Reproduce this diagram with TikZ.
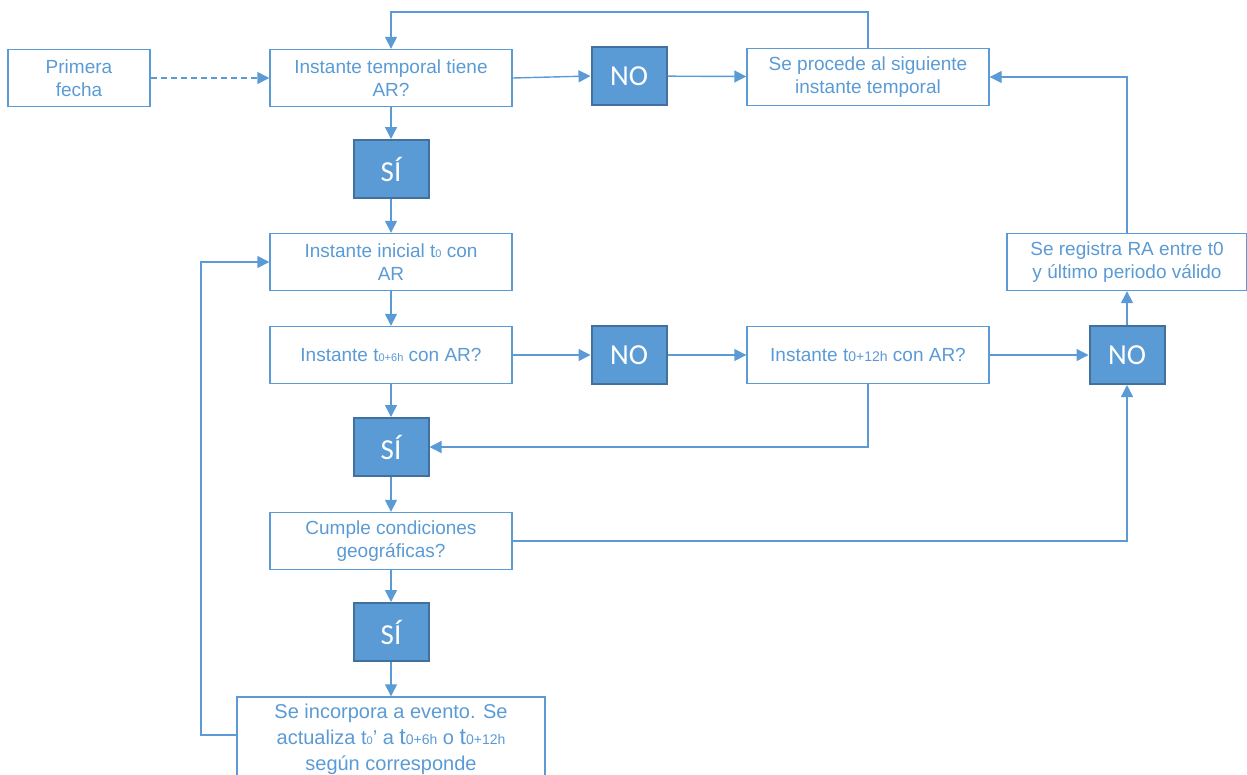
\documentclass[tikz,border=0pt]{standalone}
\usepackage{fontspec}
\setmainfont{Liberation Sans}
\newfontfamily\calib{Carlito}
\usetikzlibrary{arrows.meta}
\definecolor{lb}{HTML}{5B9BD5}
\definecolor{db}{HTML}{41719C}
\newcommand\sbs[1]{{\fontsize{11}{11}\selectfont #1}}
\newcommand\sbl[1]{{\fontsize{14}{14}\selectfont #1}}
\begin{document}
\begin{tikzpicture}[x=1pt,y=-1pt,
 box/.style={draw=lb, line width=1.4pt, fill=white, text=lb, font=\fontsize{19}{23}\selectfont, align=center, inner sep=0pt, minimum width=242pt, minimum height=57pt},
 dec/.style={draw=db, fill=lb, line width=2pt, text=white, font=\calib\fontsize{29}{29}\selectfont, inner sep=0pt, minimum width=75pt, minimum height=58pt},
 con/.style={draw=lb, line width=1.4pt, -{Triangle[length=12pt,width=12pt]}},
 lin/.style={draw=lb, line width=1.4pt}]
\useasboundingbox (0,0) rectangle (1247,774);
\clip (0,0) rectangle (1247,774);

\node[box, minimum width=142pt] (pf) at (79,78) {Primera\\fecha};
\node[box] (q1) at (391,78) {Instante temporal tiene\\AR?};
\node[dec] (no1) at (629,76) {NO};
\node[box] (proc) at (868,77) {Se procede al siguiente\\instante temporal};
\node[dec] (si1) at (391,169) {SÍ};
\node[box] (init) at (391,262) {Instante inicial t\sbs{0} con\\AR};
\node[box] (q6) at (391,355) {Instante t\sbs{0+6h} con AR?};
\node[dec] (no2) at (629,355) {NO};
\node[box] (q12) at (868,355) {Instante t\sbl{0+12h} con AR?};
\node[dec] (no3) at (1127,355) {NO};
\node[box, minimum width=240pt] (reg) at (1127,262) {Se registra RA entre t0\\y último periodo válido};
\node[dec] (si2) at (391,447) {SÍ};
\node[box] (geo) at (391,541) {Cumple condiciones\\geográficas?};
\node[dec] (si3) at (391,632) {SÍ};
\node[box, minimum width=308pt, minimum height=84pt, font=\fontsize{20}{26}\selectfont] (inc) at (391,739) {Se incorpora a evento. Se\\actualiza t\sbs{0}' a {\fontsize{23}{23}\selectfont t}\sbl{0+6h} o {\fontsize{23}{23}\selectfont t}\sbl{0+12h}\\según corresponde};

\draw[con, dash pattern=on 6pt off 4pt] (pf) -- (q1);
\draw[con] (q1.east) -- (no1.west);
\draw[con] (no1) -- (proc);
\draw[con] (proc.north) -- (proc.north |- 0,12) -| (q1.north);
\draw[con] (q1) -- (si1);
\draw[con] (si1) -- (init);
\draw[con] (init) -- (q6);
\draw[con] (q6) -- (no2);
\draw[con] (no2) -- (q12);
\draw[con] (q12) -- (no3);
\draw[con] (no3) -- (reg);
\draw[con] (reg.north) |- (proc.east);
\draw[con] (q6) -- (si2);
\draw[con] (q12.south) |- (si2.east);
\draw[con] (si2) -- (geo);
\draw[con] (geo.east) -| (no3.south);
\draw[con] (geo) -- (si3);
\draw[con] (si3) -- (inc);
\draw[con] (inc.west |- 0,735) -- (201,735) |- (init.west);
\end{tikzpicture}
\end{document}
